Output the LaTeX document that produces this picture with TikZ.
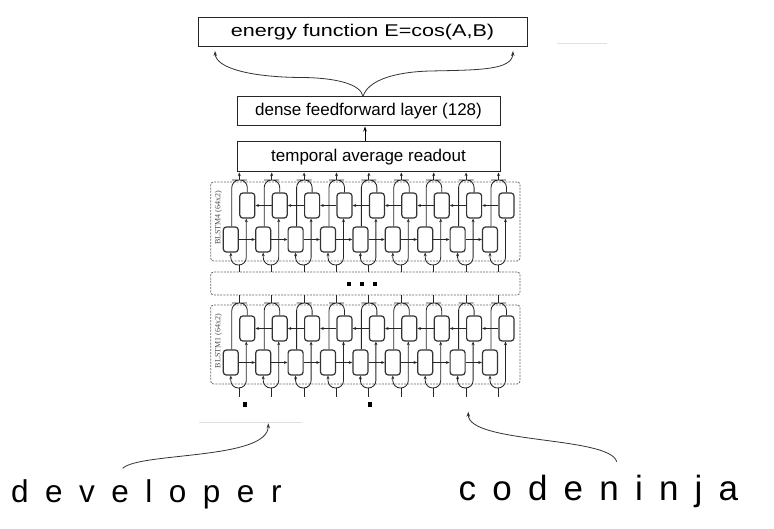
\documentclass[tikz,border=0pt]{standalone}
\usepackage{fontspec}
\setmainfont{Liberation Sans}
\newfontfamily\labelfont{Liberation Serif}
\usetikzlibrary{positioning, arrows.meta}
\tikzset{
stage/.style={shape=rectangle, draw=black!85, line width=1pt, minimum height=29pt, inner sep=0, font=\fontsize{17}{20}\selectfont}, cell/.style={shape=rectangle, rounded corners=3pt, draw=black!80, line width=1.2pt, minimum width=15pt, minimum height=25pt, inner sep=0}, block/.style={shape=rectangle, rounded corners=3pt, draw=black!60, dash pattern=on 2pt off 1.2pt, line width=0.8pt, minimum width=309.3pt, inner sep=0}, wire/.style={draw=black!85, line width=0.85pt}, handle/.style={anchor=base west, inner sep=0}, pointer/.style={draw=black!80, line width=0.8pt, -{Stealth[length=5pt,width=3.5pt]}}, dotsq/.style={fill, minimum size=4pt, inner sep=0}}

\begin{document}
\begin{tikzpicture}[x=1pt, y=1pt, >={Stealth[length=3.6pt,width=3pt]}]
\useasboundingbox (0,0) rectangle (774,-529);
\node [stage, minimum width=329pt] at (362.5,-32.5) (energy) {\scalebox{1.27}[1]{energy function E=cos(A,B)}};
\node [stage, minimum width=263pt] at (368.5,-111.5) (dense) {dense feedforward layer (128)};
\node [stage, minimum width=263pt, minimum height=30pt] at (368.5,-157) (temporal) {temporal average readout};
\draw [wire, draw=black, -{Stealth[length=5pt,width=3.6pt]}] ([xshift=-3.5pt]temporal.north) -- ([xshift=-3.5pt]dense.south);
\coordinate (join) at ([xshift=-5.5pt]dense.north);
\coordinate (tipL) at (215,-51);
\coordinate (tipR) at (513,-51);
\draw [pointer] (join) .. controls (361,-84) and (335,-77.5) .. (300,-77.5) .. controls (250,-77) and (216,-68) .. (tipL);
\draw [pointer] (join) .. controls (368,-80) and (395,-72) .. (430,-71) .. controls (480,-70) and (512,-70) .. (tipR);

\node [block, minimum height=23pt] at (365.35,-283.5) (mid) {};
\foreach \dx [count=\k] in {349.3, 362.3, 375}
      \node [dotsq] at (\dx,-284) (dot-\k) {};

\foreach \ly/\yb in {4/182, 1/305}{
  \node [block, minimum height=79pt] at (365.35,{-\yb-39.5}) (blk-\ly) {};
  \node [rotate=90, text=black!70, font=\labelfont\fontsize{8}{9}\selectfont] at (218.5,{-\yb-36}) (lbl-\ly) {BLSTM\ly\ (64x2)};
  \foreach \col [evaluate={\xc=239.3+32.4*(\col-1); \cc=int(\col-1);}] in {1,...,9}{
      \node [cell] at ({\xc+8},{-\yb-23.5}) (up-\ly-\col) {};
      \node [cell] at ({\xc-8.5},{-\yb-57.5}) (lo-\ly-\col) {};
      \coordinate (ap-\ly-\col) at (\xc,{-\yb+2});
      \coordinate (sp-\ly-\col) at (\xc,{-\yb-83});
      \draw [wire, rounded corners=7.5pt] ([xshift=1pt]lo-\ly-\col.north) |- (ap-\ly-\col) -| (up-\ly-\col.north);
      \draw [wire, rounded corners=7.5pt, ->] (sp-\ly-\col) -| (lo-\ly-\col.south);
      \draw [wire, rounded corners=7.5pt, ->] (sp-\ly-\col) -| ([xshift=-1pt]up-\ly-\col.south);
      \ifnum\col>1
          \draw [wire, ->] (lo-\ly-\cc) -- (lo-\ly-\col);
          \draw [wire, ->] (up-\ly-\col) -- (up-\ly-\cc);
      \fi
  }
}

\coordinate (inbase) at (0,-397);
\foreach \col in {1,...,9}{
      \draw [wire, ->] (ap-4-\col) -- (ap-4-\col |- temporal.south);
      \draw [wire] (ap-1-\col) -- (ap-1-\col |- mid.south);
      \draw [wire] (sp-4-\col) -- (sp-4-\col |- mid.north);
      \draw [wire] (sp-1-\col) -- (sp-1-\col |- inbase);
}
\fill (243.3,-402.3) rectangle (246.7,-406.7);
\fill (368.3,-402.3) rectangle (371.7,-406.7);
\draw [black!12, line width=0.8pt] (199,-422.3) -- (302,-422.3);
\draw [black!12, line width=0.8pt] (557,-43) -- (607,-43);

\node [handle, font=\fontsize{31.5}{36}\selectfont] at (11,-502.3) (developer) {\spaceskip=16.5pt d e v e l o p e r};
\node [handle, font=\fontsize{35}{40}\selectfont] at (458.5,-500) (codeninja) {\spaceskip=16.2pt c o d e n i n j a};
\coordinate (devfoot) at (122.7,-468.3);
\coordinate (devtip) at (268.3,-423.3);
\coordinate (cnfoot) at (616.7,-461.7);
\coordinate (cntip) at (468.3,-411.7);
\draw [pointer] (devfoot) .. controls (140,-452) and (268,-460) .. (devtip);
\draw [pointer] (cnfoot) .. controls (610,-436) and (468,-444) .. (cntip);
\end{tikzpicture}
\end{document}
